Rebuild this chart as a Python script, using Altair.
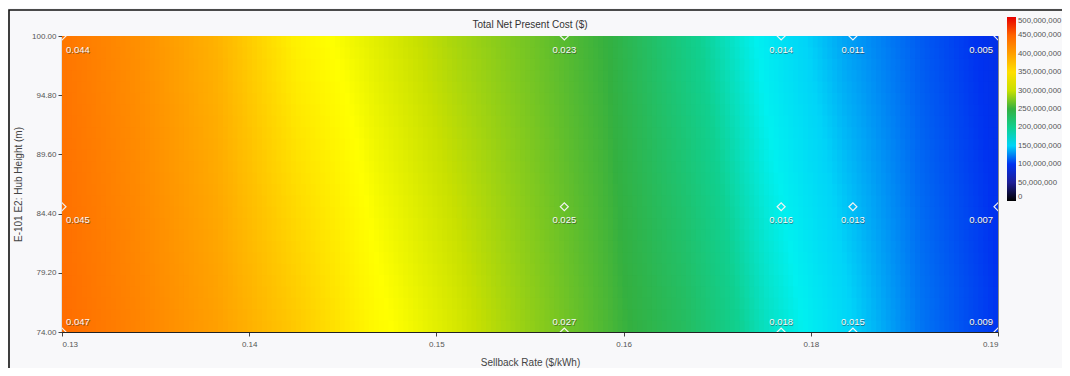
import altair as alt
import pandas as pd

# ---- data ----
x_samples = [0.130, 0.135, 0.140, 0.145, 0.150, 0.155, 0.160, 0.165, 0.170, 0.175, 0.180, 0.185, 0.190]
npc_top = [435e6, 413e6, 385e6, 335e6, 312e6, 290e6, 271e6, 250e6, 207e6, 166e6, 136e6, 113e6, 95e6]      # at hub height 100 m
npc_bottom = [443e6, 423e6, 400e6, 368e6, 330e6, 308e6, 282e6, 258e6, 230e6, 186e6, 155e6, 121e6, 101e6]  # at hub height 74 m
y_low, y_high = 74.0, 100.0

pt_x = [0.13, 0.1622, 0.1761, 0.1807, 0.19]
pt_y = [100.0, 85.0, 74.0]
pt_labels = [
    ["0.044", "0.023", "0.014", "0.011", "0.005"],
    ["0.045", "0.025", "0.016", "0.013", "0.007"],
    ["0.047", "0.027", "0.018", "0.015", "0.009"],
]

chart_title = "Total Net Present Cost ($)"
x_tick_values = [0.13, 0.142, 0.154, 0.166, 0.178, 0.19]
x_tick_labels = ["0.13", "0.14", "0.15", "0.16", "0.18", "0.19"]
y_tick_values = [74.0, 79.2, 84.4, 89.6, 94.8, 100.0]
legend_values = [0, 50e6, 100e6, 150e6, 200e6, 250e6, 300e6, 350e6, 400e6, 450e6, 500e6]

color_domain = [0, 50e6, 100e6, 150e6, 170e6, 200e6, 250e6, 300e6, 325e6, 400e6, 450e6, 500e6]
color_range = ["#000000", "#1e1e96", "#0032f0", "#00d4f8", "#00f0f0", "#10d090",
               "#34b040", "#c8e000", "#ffff00", "#ffa000", "#ff6400", "#e60000"]

# ---- tables ----
seg = pd.DataFrame({
    "x0": x_samples[:-1], "x1": x_samples[1:],
    "t0": npc_top[:-1], "t1": npc_top[1:],
    "b0": npc_bottom[:-1], "b1": npc_bottom[1:],
})
rows = []
for ri, yv in enumerate(pt_y):
    for ci, xv in enumerate(pt_x):
        rows.append({"x": xv, "y": yv, "label": pt_labels[ri][ci], "ri": ri, "ci": ci})
pts = pd.DataFrame(rows)
title_df = pd.DataFrame({"t": [chart_title]})

FONT = "Liberation Sans"
NS, NR = 16, 26

xscale = alt.Scale(domain=[0.13, 0.19], nice=False, zero=False)
yscale = alt.Scale(domain=[y_low, y_high], nice=False, zero=False)

label_expr = "[" + ",".join("'%s'" % s for s in x_tick_labels) + "][round((datum.value-0.13)/0.012)]"

frame = alt.Chart(title_df).mark_rect(
    fillOpacity=0, stroke="#111111", strokeWidth=1.6
).encode(x=alt.value(-53), x2=alt.value(1100), y=alt.value(-26), y2=alt.value(400))

title_mark = alt.Chart(title_df).mark_text(
    font=FONT, fontSize=10, color="#333333", align="center", baseline="middle"
).encode(x=alt.value(468), y=alt.value(-11), text="t:N")

field = alt.Chart(seg).transform_calculate(
    s=f"sequence(0,{NS})"
).transform_flatten(["s"]).transform_calculate(
    r=f"sequence(0,{NR})"
).transform_flatten(["r"]).transform_calculate(
    u=f"(datum.s+0.5)/{NS}",
    xa=f"datum.x0+(datum.x1-datum.x0)*datum.s/{NS}",
    xb=f"datum.x0+(datum.x1-datum.x0)*(datum.s+1.35)/{NS}",
    ya=f"{y_low}+({y_high}-{y_low})*datum.r/{NR}",
    yb=f"{y_low}+({y_high}-{y_low})*(datum.r+1.35)/{NR}",
).transform_calculate(
    tm="datum.t0+(datum.t1-datum.t0)*datum.u",
    bm="datum.b0+(datum.b1-datum.b0)*datum.u",
    f=f"(datum.r+0.5)/{NR}",
).transform_calculate(
    v="datum.bm+(datum.tm-datum.bm)*datum.f"
).mark_rect(clip=True).encode(
    x=alt.X("xa:Q", scale=xscale, axis=alt.Axis(
        values=x_tick_values, labelExpr=label_expr, title="Sellback Rate ($/kWh)",
        tickSize=4, labelPadding=4, titlePadding=9)),
    x2="xb:Q",
    y=alt.Y("ya:Q", scale=yscale, axis=alt.Axis(
        values=y_tick_values, format=".2f", title="E-101 E2: Hub Height (m)",
        tickSize=4, labelPadding=2, titlePadding=8)),
    y2="yb:Q",
    color=alt.Color("v:Q", scale=alt.Scale(domain=color_domain, range=color_range, interpolate="rgb"),
                    legend=alt.Legend(
                        title=None, orient="none", legendX=945, legendY=-19, direction="vertical",
                        gradientLength=184, gradientThickness=9, gradientStrokeWidth=0,
                        values=legend_values, format=",.0f", labelOverlap=False,
                        labelFont=FONT, labelFontSize=7.8, labelColor="#555555", labelOffset=2,
                        padding=0)),
)

points = alt.Chart(pts).mark_point(
    shape="diamond", filled=False, stroke="#f2f2f2", strokeWidth=1.2, size=64, clip=True, opacity=1
).encode(x=alt.X("x:Q", scale=xscale), y=alt.Y("y:Q", scale=yscale))

row_dy = {0: 14, 1: 13, 2: -10}
col_groups = [([0], "left", 4), ([1, 2, 3], "center", 0), ([4], "right", -5)]
texts = []
for ri, dy in row_dy.items():
    for cols, align, dx in col_groups:
        base = alt.Chart(pts).transform_filter(
            f"datum.ri == {ri} && indexof({cols}, datum.ci) >= 0"
        ).encode(x=alt.X("x:Q", scale=xscale), y=alt.Y("y:Q", scale=yscale), text="label:N")
        texts.append(base.mark_text(align=align, baseline="middle", dx=dx + 0.8, dy=dy + 0.8,
                                    font=FONT, fontSize=9.5, color="#303030", opacity=0.55))
        texts.append(base.mark_text(align=align, baseline="middle", dx=dx, dy=dy,
                                    font=FONT, fontSize=9.5, color="#f8f8f8"))

chart = alt.layer(frame, title_mark, field, points, *texts).properties(
    width=936, height=296,
    padding={"left": 54, "top": 28, "right": 64, "bottom": 36},
    autosize=alt.AutoSizeParams(type="none"),
    background="#f8f8fa",
).configure_view(stroke="#8a8a8a", strokeWidth=1).configure_axis(
    grid=False, domainColor="#222222", domainWidth=1.2, tickColor="#444444",
    labelFont=FONT, labelFontSize=8, labelColor="#555555",
    titleFont=FONT, titleFontSize=10, titleColor="#444444", titleFontWeight="normal",
)

chart.save("out.html", embed_options={"renderer": "svg", "actions": False})
